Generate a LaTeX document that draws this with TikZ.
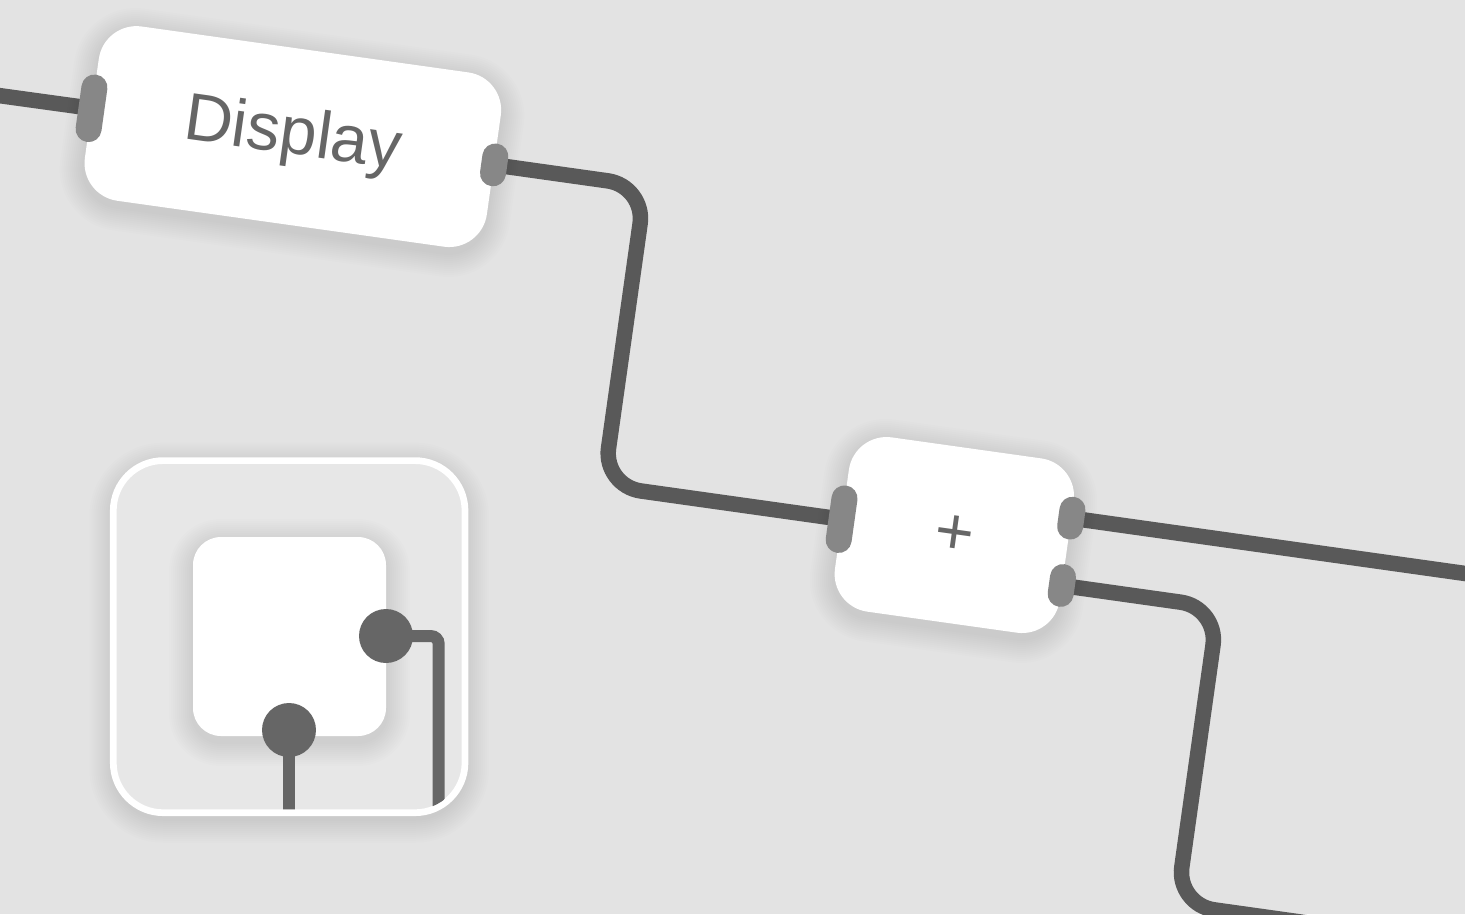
\documentclass[tikz,border=0pt]{standalone}
\usepackage{fontspec}
\setmainfont{Liberation Sans}

\definecolor{canvasbg}{HTML}{E3E3E3}
\definecolor{wiregray}{HTML}{595959}
\definecolor{portgray}{HTML}{878787}
\definecolor{labelgray}{HTML}{666666}
\definecolor{iconbg}{HTML}{E7E7E7}

\pgfdeclarelayer{back}
\pgfdeclarelayer{wires}
\pgfsetlayers{back,wires,main}

% bayangan lembut: pusat x, pusat y, lebar, tinggi, jari-jari (px)
\newcommand{\softshade}[5]{%
  \foreach \g in {1,...,12}
    \fill[black, opacity=0.008, rounded corners={(#5+2*\g)*0.02cm}]
      ({#1-#3/2-2*\g}, {#2-#4/2-2*\g+6}) rectangle ({#1+#3/2+2*\g}, {#2+#4/2+2*\g+6});
}

\tikzset{
  block/.style={fill=white, rounded corners=0.76cm, minimum height=3.52cm,
    inner sep=0pt, text=labelgray, font=\fontsize{38}{40}\selectfont},
  inport/.style={fill=portgray, rounded corners=0.26cm, minimum width=0.52cm,
    minimum height=1.36cm, inner sep=0pt},
  outport/.style={inport, minimum height=0.86cm},
  wire/.style={draw=wiregray, line width=0.31cm, rounded corners=0.76cm},
  iconline/.style={draw=labelgray, line width=0.24cm}
}

\begin{document}
\begin{tikzpicture}[x=0.02cm, y=-0.02cm]
  \useasboundingbox (0,0) rectangle (1465,914);
  \begin{pgfonlayer}{back}
    \fill[canvasbg] (0,0) rectangle (1465,914);
  \end{pgfonlayer}

  % Ikon kecil di kiri bawah
  \softshade{289.2}{636.7}{351.7}{352.1}{50}
  \path[fill=iconbg, draw=white, line width=0.134cm, rounded corners=1cm]
    (113.3,460.6) rectangle (465,812.7);
  \begin{scope}
    \clip[rounded corners=0.92cm] (116.6,464) rectangle (461.7,809.4);
    \softshade{289.5}{636.5}{193}{199}{28}
    \fill[white, rounded corners=0.56cm] (193,537) rectangle (386,736);
    \draw[iconline] (289,730) -- (289,840);
    \draw[iconline, rounded corners=0.16cm] (386,636) -- (438.7,636) -- (438.7,840);
    \fill[labelgray] (386,636) circle (0.54cm);
    \fill[labelgray] (289,730) circle (0.54cm);
  \end{scope}

  \begin{scope}[rotate=-8, transform shape]
    % Bayangan blok
    \softshade{309}{94.5}{406}{176}{38}
    \softshade{1019.5}{397}{227}{176}{38}

    % Blok
    \node[block, minimum width=8.12cm] (disp) at (309,94.5) {Display};
    \node[block, minimum width=4.54cm] (plus) at (1019.5,397) {\raisebox{-3pt}{+}};

    % Port
    \node[inport] (disp-in) at (disp.west) {};
    \node[outport] (disp-out) at (disp.east) {};
    \node[inport] (plus-in) at (plus.west) {};
    \node[outport] (plus-out-a) at (1133,364) {};
    \node[outport] (plus-out-b) at (1133,432) {};

    % Titik belok kabel
    \coordinate (src) at (-80,95);
    \coordinate (k1) at (665,94.5);
    \coordinate (k2) at (665,397);
    \coordinate (sink-a) at (1600,364);
    \coordinate (k3) at (1291,432);
    \coordinate (k4) at (1291,732);
    \coordinate (sink-b) at (1560,732);

    % Kabel
    \begin{pgfonlayer}{wires}
      \draw[wire] (src) -- (disp-in.center);
      \draw[wire] (disp-out.center) -- (k1) -- (k2) -- (plus-in.center);
      \draw[wire] (plus-out-a.center) -- (sink-a);
      \draw[wire] (plus-out-b.center) -- (k3) -- (k4) -- (sink-b);
    \end{pgfonlayer}
  \end{scope}
\end{tikzpicture}
\end{document}
